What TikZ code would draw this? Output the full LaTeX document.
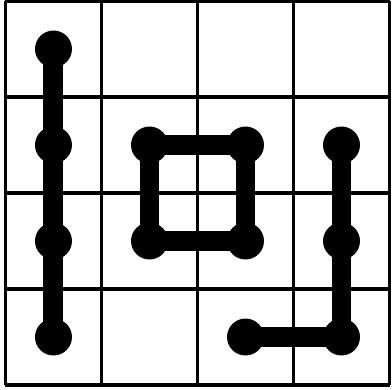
\documentclass[tikz,border=0pt]{standalone}
\usepackage{tikz}

\begin{document}
\begin{tikzpicture}[
  cellgrid/.style={line width=1.05pt},
  dot/.style={circle, fill=black, inner sep=0pt, minimum size=0.385cm},
  link/.style={line width=0.208cm, line join=miter}]
\useasboundingbox (-0.057,-0.042) rectangle (4.026,4.0104);

\draw[cellgrid] (0,0) grid (4,4);

% dots at cell centres
\node[dot] (a1) at (0.5,3.5) {};
\node[dot] (a2) at (0.5,2.5) {};
\node[dot] (a3) at (0.5,1.5) {};
\node[dot] (a4) at (0.5,0.5) {};

\node[dot] (s1) at (1.5,2.5) {};
\node[dot] (s2) at (2.5,2.5) {};
\node[dot] (s3) at (2.5,1.5) {};
\node[dot] (s4) at (1.5,1.5) {};

\node[dot] (h1) at (3.5,2.5) {};
\node[dot] (h2) at (3.5,1.5) {};
\node[dot] (h3) at (3.5,0.5) {};
\node[dot] (h4) at (2.5,0.5) {};

\draw[link] (a1.center) -- (a2.center) -- (a3.center) -- (a4.center);
\draw[link] (s1.center) -- (s2.center) -- (s3.center) -- (s4.center) -- cycle;
\draw[link] (h1.center) -- (h2.center) -- (h3.center) -- (h4.center);
\end{tikzpicture}
\end{document}
